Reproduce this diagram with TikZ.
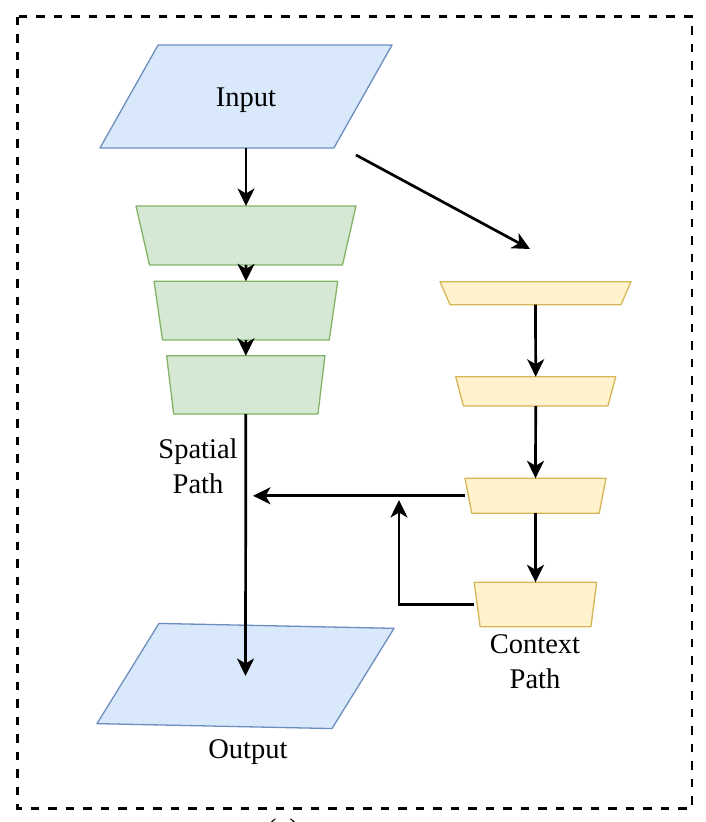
\documentclass[tikz,border=0pt]{standalone}
\usepackage{fontspec}
\setmainfont{Liberation Serif}
\usetikzlibrary{arrows.meta,calc,backgrounds}
\definecolor{blueF}{HTML}{DAE8FC}
\definecolor{blueD}{HTML}{6C8EBF}
\definecolor{greenF}{HTML}{D5E8D4}
\definecolor{greenD}{HTML}{82B366}
\definecolor{yelF}{HTML}{FFF2CC}
\definecolor{yelD}{HTML}{D6B656}
% #1 node name, #2 bottom inset (pt), #3 stroke, #4 fill
\newcommand{\mytrap}[4]{%
  \filldraw[draw=#3, fill=#4, line width=1.3pt, line join=round]
    (#1.north west) -- (#1.north east) -- ([xshift=-#2pt]#1.south east)
    -- ([xshift=#2pt]#1.south west) -- cycle;}
% #1 node name, #2 slant fraction
\newcommand{\mypara}[2]{%
  \filldraw[draw=blueD, fill=blueF, line width=1.3pt, line join=round]
    ($(#1.north west)!#2!(#1.north east)$) -- (#1.north east)
    -- ($(#1.south east)!#2!(#1.south west)$) -- (#1.south west) -- cycle;}
\begin{document}
\begin{tikzpicture}[x=1pt,y=1pt,
  txt/.style={font=\fontsize{28.5}{35}\selectfont, inner sep=0pt, align=center},
  box/.style={rectangle, inner sep=0pt, outer sep=0pt, font=\fontsize{28.5}{35}\selectfont},
  arr/.style={line width=2.7pt, -{Stealth[length=17.5pt,width=17pt,inset=5pt]}},
  frame/.style={line width=2.7pt, dash pattern=on 8.5pt off 9pt}]
\useasboundingbox (0,0) rectangle (706,822);
% frame
\draw[frame] (17.7,805.3) rectangle (692,13.5);
% left column
\node[box, minimum width=292pt, minimum height=103pt] (in) at (246,725.5) {\raisebox{-4pt}[\height][\depth]{Input}};
\node[box, minimum width=220pt, minimum height=59pt] (g1) at (246,586.5) {};
\node[box, minimum width=183.7pt, minimum height=58.7pt] (g2) at (245.9,511.3) {};
\node[box, minimum width=158.3pt, minimum height=58.3pt] (g3) at (245.8,437.1) {};
\node[box, minimum width=295pt, minimum height=101.5pt, rotate=-1.2] (out) at (245.5,146) {};
% right column
\node[box, minimum width=191pt, minimum height=23pt] (y1) at (535.5,528.8) {};
\node[box, minimum width=160pt, minimum height=29.3pt] (y2) at (535.7,430.6) {};
\node[box, minimum width=141pt, minimum height=35pt] (y3) at (535.5,326.2) {};
\node[box, minimum width=122.4pt, minimum height=44.4pt] (y4) at (535.5,217.5) {};
% shapes behind the nodes
\begin{scope}[on background layer]
  \mypara{in}{0.199}
  \mypara{out}{0.203}
  \mytrap{g1}{13.5}{greenD}{greenF}
  \mytrap{g2}{8.5}{greenD}{greenF}
  \mytrap{g3}{7}{greenD}{greenF}
  \mytrap{y1}{10}{yelD}{yelF}
  \mytrap{y2}{7.8}{yelD}{yelF}
  \mytrap{y3}{6.8}{yelD}{yelF}
  \mytrap{y4}{5.8}{yelD}{yelF}
\end{scope}
% labels
\node[txt] (lsp) at (198,356) {Spatial\\Path};
\node[txt] (lcp) at (535,160) {Context\\Path};
\node[txt] (lout) at (248,70) {Output};
\node[txt, anchor=north] (lcap) at (283,3) {(a)};
% free ends
\coordinate (d1) at (356,667);
\coordinate (d2) at (530,573);
\coordinate (sptip) at (253,327);
\coordinate (fb) at (399,322);
% connectors
\draw[arr] (in.south) -- (g1.north);
\draw[arr] (g1.south) -- (g2.north);
\draw[arr] (g2.south) -- (g3.north);
\draw[arr] (g3.south) -- (out.center);
\draw[arr] (d1) -- (d2);
\draw[arr] (y1.south) -- (y2.north);
\draw[arr] (y2.south) -- (y3.north);
\draw[arr] (y3.south) -- (y4.north);
\draw[arr] (y3.west) -- (y3.west -| sptip);
\draw[arr] (y4.west) -| (fb);
\end{tikzpicture}
\end{document}
